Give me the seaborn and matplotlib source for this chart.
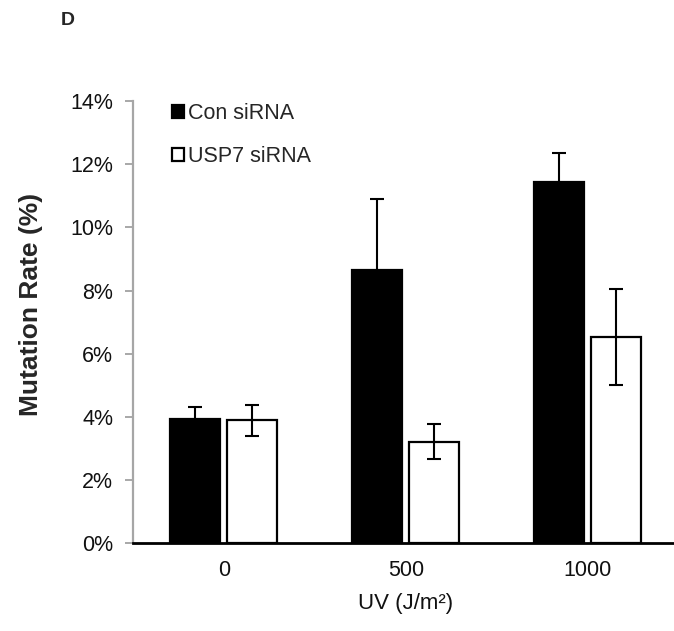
import pandas as pd
import matplotlib.pyplot as plt
import seaborn as sns
from matplotlib.ticker import PercentFormatter, FixedLocator

doses = ["0", "500", "1000"]
groups = ["Con siRNA", "USP7 siRNA"]
con_rate = [3.93, 8.66, 11.43]
con_err = [0.38, 2.25, 0.93]
usp_rate = [3.89, 3.21, 6.53]
usp_err = [0.50, 0.55, 1.53]

df = pd.DataFrame({
    "UV": doses * 2,
    "siRNA": [groups[0]] * 3 + [groups[1]] * 3,
    "rate": con_rate + usp_rate,
})

sns.set_style("white")
plt.rcParams["font.family"] = ["Liberation Sans", "DejaVu Sans"]

fig = plt.figure(figsize=(6.74, 6.31), dpi=100)
ax = fig.add_axes([0.197, 0.139, 0.81, 0.701])

sns.barplot(data=df, x="UV", y="rate", hue="siRNA", order=doses, hue_order=groups,
            palette={"Con siRNA": "black", "USP7 siRNA": "white"}, saturation=1,
            edgecolor="black", linewidth=1.6, width=0.63, gap=0.13,
            errorbar=None, ax=ax)

# error bars on top of each bar container
for cont, errs in zip(ax.containers, [con_err, usp_err]):
    for bar, e in zip(cont, errs):
        ax.errorbar(bar.get_x() + bar.get_width() / 2, bar.get_height(), yerr=e,
                    fmt="none", ecolor="black", elinewidth=1.5, capsize=5, capthick=1.5)

ax.set_ylim(0, 14)
ax.set_xlim(-0.5, 2.5)
ax.yaxis.set_major_locator(FixedLocator(range(0, 15, 2)))
ax.yaxis.set_major_formatter(PercentFormatter(decimals=0))

ax.xaxis.set_minor_locator(FixedLocator([-0.5, 0.5, 1.5, 2.5]))
ax.tick_params(axis="x", which="major", length=0, labelsize=15.5, pad=12, colors="#111111")
ax.tick_params(axis="x", which="minor", length=6, width=1.5, color="black", direction="out")
ax.tick_params(axis="y", length=6, width=1.2, color="#999999", direction="out",
               labelsize=15.5, labelcolor="#111111", left=True, pad=8)

sns.despine(ax=ax)
ax.spines["left"].set_color("#a6a6a6")
ax.spines["left"].set_linewidth(1.6)
ax.spines["bottom"].set_color("black")
ax.spines["bottom"].set_linewidth(2)

ax.set_xlabel("UV (J/m²)", fontsize=16, labelpad=9, color="#111111")
ax.set_ylabel("Mutation Rate (%)", fontsize=19, fontweight="bold")
ax.yaxis.set_label_coords(-0.165, 0.539)

leg = ax.legend(loc="upper left", bbox_to_anchor=(0.053, 1.02), frameon=False,
                fontsize=15.5, handlelength=0.55, handleheight=0.55, handletextpad=0.15,
                labelspacing=1.05, borderpad=0)

fig.text(0.09, 0.967, "D", fontsize=14, fontweight="bold", va="center")

plt.savefig("out.png", dpi=100)
